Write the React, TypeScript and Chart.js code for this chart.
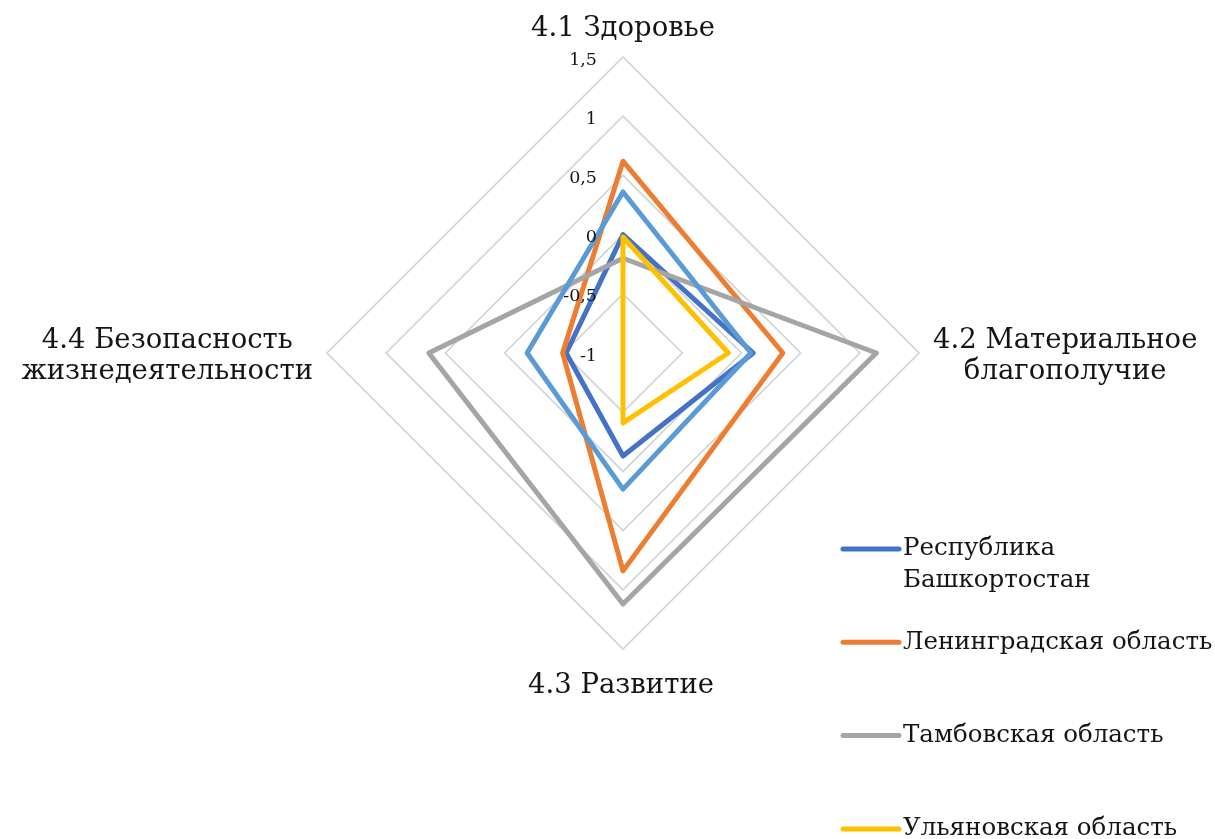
import { useEffect, useRef } from 'react';
import { Chart, registerables } from 'chart.js';

Chart.register(...registerables);

// ---- data ----
const categories = [
  '4.1 Здоровье',
  '4.2 Материальное благополучие',
  '4.3 Развитие',
  '4.4 Безопасность жизнедеятельности',
];
const categoryLines = [
  ['4.1 Здоровье'],
  ['4.2 Материальное', 'благополучие'],
  ['4.3 Развитие'],
  ['4.4 Безопасность', 'жизнедеятельности'],
];
const seriesNames = [
  'Республика Башкортостан',
  'Ленинградская область',
  'Тамбовская область',
  'Ульяновская область',
  'Ряд5',
];
const legendLines = [
  ['Республика', 'Башкортостан'],
  ['Ленинградская область'],
  ['Тамбовская область'],
  ['Ульяновская область'],
  ['Ряд5'],
];
const bashkortostan = [0.0, 0.1, -0.13, -0.52];
const leningrad = [0.62, 0.35, 0.84, -0.49];
const tambov = [-0.2, 1.14, 1.12, 0.64];
const ulyanovsk = [-0.02, -0.11, -0.41, -1.0];
const series5 = [0.36, 0.08, 0.15, -0.19];
const seriesValues = [bashkortostan, leningrad, tambov, ulyanovsk, series5];
const seriesColors = ['#4472C4', '#ED7D31', '#A5A5A5', '#FFC000', '#5B9BD5'];
const scaleMin = -1;
const scaleMax = 1.5;
const scaleStep = 0.5;

const FONT = '"DejaVu Serif", "Liberation Serif", serif';
const TEXT = '#151515';

const fmtTick = (v: number) => String(v).replace('.', ',');

const overlayPlugin = {
  id: 'overlay',
  afterDraw(chart: any) {
    const ctx = chart.ctx as CanvasRenderingContext2D;
    const r = chart.scales.r;
    ctx.save();

    // tick labels
    ctx.font = `17.5px ${FONT}`;
    ctx.fillStyle = TEXT;
    ctx.textAlign = 'right';
    ctx.textBaseline = 'middle';
    r.ticks.forEach((t: any) => {
      const p = r.getPointPositionForValue(0, t.value);
      ctx.fillText(fmtTick(t.value), r.xCenter - 26, p.y + 3);
    });

    // point labels (centered multi-line)
    ctx.font = `27.5px ${FONT}`;
    ctx.textAlign = 'center';
    ctx.textBaseline = 'alphabetic';
    categoryLines.forEach((lines, i) => {
      const p = r.getPointPositionForValue(i, r.max);
      const maxW = Math.max(...lines.map((l) => ctx.measureText(l).width));
      let cx = p.x;
      let y0 = p.y;
      if (i === 0) {
        y0 = p.y - 21;
      } else if (i === 2) {
        cx = p.x - 2;
        y0 = p.y + 44;
      } else if (i === 1) {
        cx = p.x + 14 + maxW / 2;
        y0 = p.y - 5;
      } else {
        cx = p.x - 14 - maxW / 2;
        y0 = p.y - 5;
      }
      lines.forEach((l, k) => ctx.fillText(l, cx, y0 + k * 31));
    });

    // legend
    const lx0 = 843;
    const lx1 = 899;
    const tx = 903;
    const firstY = 549;
    const stepY = 93.3;
    ctx.font = `24.5px ${FONT}`;
    ctx.textAlign = 'left';
    ctx.textBaseline = 'middle';
    chart.data.datasets.forEach((ds: any, i: number) => {
      const y = firstY + i * stepY;
      ctx.beginPath();
      ctx.strokeStyle = ds.borderColor;
      ctx.lineWidth = 5;
      ctx.lineCap = 'round';
      ctx.moveTo(lx0, y);
      ctx.lineTo(lx1, y);
      ctx.stroke();
      ctx.fillStyle = TEXT;
      legendLines[i].forEach((l, k) => ctx.fillText(l, tx, y + k * 32));
    });

    ctx.restore();
  },
};

export default function App() {
  const canvasRef = useRef<HTMLCanvasElement | null>(null);

  useEffect(() => {
    if (!canvasRef.current) return;
    const chart = new Chart(canvasRef.current, {
      type: 'radar',
      data: {
        labels: categories,
        datasets: seriesValues.map((vals, i) => ({
          label: seriesNames[i],
          data: vals,
          borderColor: seriesColors[i],
          backgroundColor: seriesColors[i],
          fill: false,
          order: seriesValues.length - i,
        })),
      },
      options: {
        animation: false,
        responsive: true,
        maintainAspectRatio: false,
        layout: { padding: { left: 327, right: 296, top: 57, bottom: 190 } },
        plugins: {
          legend: { display: false },
          tooltip: { enabled: false },
        },
        elements: {
          line: { tension: 0, borderWidth: 5, borderJoinStyle: 'round' },
          point: { radius: 0, hoverRadius: 0 },
        },
        scales: {
          r: {
            min: scaleMin,
            max: scaleMax,
            ticks: { stepSize: scaleStep, display: false },
            angleLines: { display: false },
            grid: { color: '#d4d4d4', lineWidth: 1.75 },
            pointLabels: { display: false },
          },
        },
      },
      plugins: [overlayPlugin],
    });
    return () => chart.destroy();
  }, []);

  return (
    <div
      style={{
        position: 'fixed',
        left: 0,
        top: 0,
        width: 1215,
        height: 839,
        background: '#ffffff',
      }}
    >
      <canvas ref={canvasRef} />
    </div>
  );
}
